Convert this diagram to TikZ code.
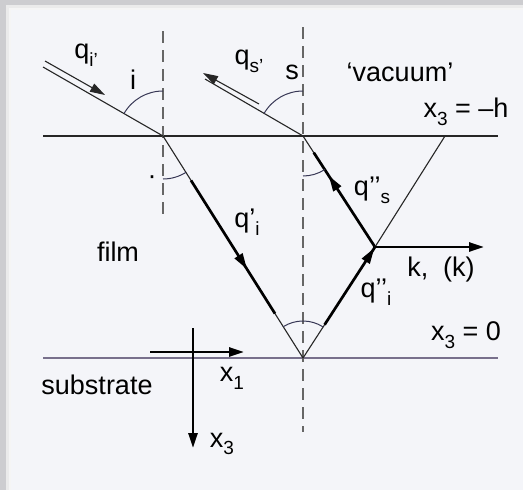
\documentclass[tikz,border=0pt]{standalone}
\usepackage{fontspec}
\setmainfont{Liberation Sans}
\usetikzlibrary{arrows.meta,decorations.markings,calc}
\newcommand{\lo}[1]{\raisebox{-0.55ex}{\fontsize{19}{19}\selectfont #1}}
\definecolor{panel}{RGB}{244,245,249}
\definecolor{outer}{RGB}{205,205,208}
\definecolor{arccol}{RGB}{55,55,85}
\definecolor{botline}{RGB}{120,112,140}
\tikzset{
  thinline/.style={line width=1.1pt, draw=black!85},
  thickline/.style={line width=2.7pt, draw=black},
  dashv/.style={line width=1.2pt, draw=black!60, dash pattern=on 12pt off 7pt},
  anglearc/.style={line width=1pt, draw=arccol},
  lbl/.style={font=\fontsize{27}{30}\selectfont, inner sep=0pt},
  tipstyle/.style={-{Triangle[length=15pt,width=9pt]}},
  midarrow/.style={postaction={decorate}, decoration={markings, mark=at position #1 with {\arrow{Triangle[length=16pt,width=9pt]}}}}
}
\begin{document}
\begin{tikzpicture}[x=1pt,y=-1pt]
\useasboundingbox (0,0) rectangle (523,490);
% background
\fill[outer] (0,0) rectangle (523,490);
\fill[black!8] (6,5) rectangle (523,490);
\fill[black!4] (9,8) rectangle (523,490);
\fill[panel] (11,10) rectangle (523,490);
% coordinates
\coordinate (E1) at (163,136);
\coordinate (E2) at (303,136);
\coordinate (B) at (303,358);
\coordinate (K) at (375,247);
\coordinate (T3) at (445,136);
\coordinate (Kend) at (484,247);
\coordinate (A1) at (43,67);
\coordinate (O1) at (205,79);
\coordinate (IA) at (45,61);
\coordinate (IB) at (105,95);
\coordinate (OA) at (259,104);
\coordinate (OB) at (203,73);
\coordinate (TL) at (43,136);
\coordinate (TR) at (498,136);
\coordinate (BL) at (43,358);
\coordinate (BR) at (498,358);
\coordinate (D1a) at (163,31);
\coordinate (D1b) at (163,220);
\coordinate (D2a) at (303,27);
\coordinate (D2b) at (303,432);
\coordinate (X1a) at (150,352);
\coordinate (X1b) at (244,352);
\coordinate (X3a) at (193,328);
\coordinate (X3b) at (193,448);
% horizontal interfaces
\draw[thinline] (TL) -- (TR);
\draw[line width=1.1pt, draw=botline] (BL) -- (BR);
% dashed normals
\draw[dashv] (D1a) -- (D1b);
\draw[dashv] (D2a) -- (D2b);
% incident ray
\draw[thinline] (A1) -- (E1);
\draw[thinline, tipstyle] (IA) -- (IB);
% outgoing ray
\draw[thinline] (E2) -- (O1);
\draw[thinline, tipstyle] (OA) -- (OB);
% refracted q'_i
\draw[thinline] (E1) -- (B);
\draw[thickline, midarrow=0.667] ($(E1)!0.2!(B)$) -- ($(E1)!0.8!(B)$);
% q''_i
\draw[thinline] (B) -- (K);
\draw[thickline, midarrow=0.99] ($(B)!0.3!(K)$) -- (K);
% q''_s
\draw[thinline] (K) -- (E2);
\draw[thickline, midarrow=0.76] (K) -- ($(K)!0.85!(E2)$);
% thin line to top
\draw[thinline] (K) -- (T3);
% k arrow
\draw[thickline, tipstyle] (K) -- (Kend);
% axes
\draw[thickline, tipstyle] (X1a) -- (X1b);
\draw[thickline, tipstyle] (X3a) -- (X3b);
% angle arcs
\draw[anglearc] ($(E1)+(0,-45)$) arc[start angle=90, end angle=150, radius=45pt];
\draw[anglearc] ($(E1)+(0,43)$) arc[start angle=-90, end angle=-57.8, radius=43pt];
\draw[anglearc] ($(E2)+(0,-45)$) arc[start angle=90, end angle=150, radius=45pt];
\draw[anglearc] ($(E2)+(0,40)$) arc[start angle=-90, end angle=-57, radius=40pt];
\draw[anglearc] ($(B)+(122.2:37pt)$) arc[start angle=122.2, end angle=57.4, radius=37pt];
% labels
\node[lbl] (lqi) at (86,55) {q\lo{i’}};
\node[lbl] (li) at (133,80) {i};
\node[lbl] (lqs) at (249,61) {q\lo{s’}};
\node[lbl] (ls) at (292,72) {s};
\node[lbl] (lvac) at (400,72) {‘vacuum’};
\node[lbl] (lh) at (466,112) {x\lo{3} = –h};
\node[lbl] (ldot) at (152,180) {·};
\node[lbl] (lqss) at (372,190) {q’’\lo{s}};
\node[lbl] (lqpi) at (247,222) {q’\lo{i}};
\node[lbl] (lfilm) at (118,252) {film};
\node[lbl] (lk) at (441,270) {k,\ \ (k)};
\node[lbl] (lqii) at (376,292) {q’’\lo{i}};
\node[lbl] (l0) at (466,335) {x\lo{3} = 0};
\node[lbl] (lsub) at (97,385) {substrate};
\node[lbl] (lx1) at (232,378) {x\lo{1}};
\node[lbl] (lx3) at (222,444) {x\lo{3}};
\end{tikzpicture}
\end{document}
